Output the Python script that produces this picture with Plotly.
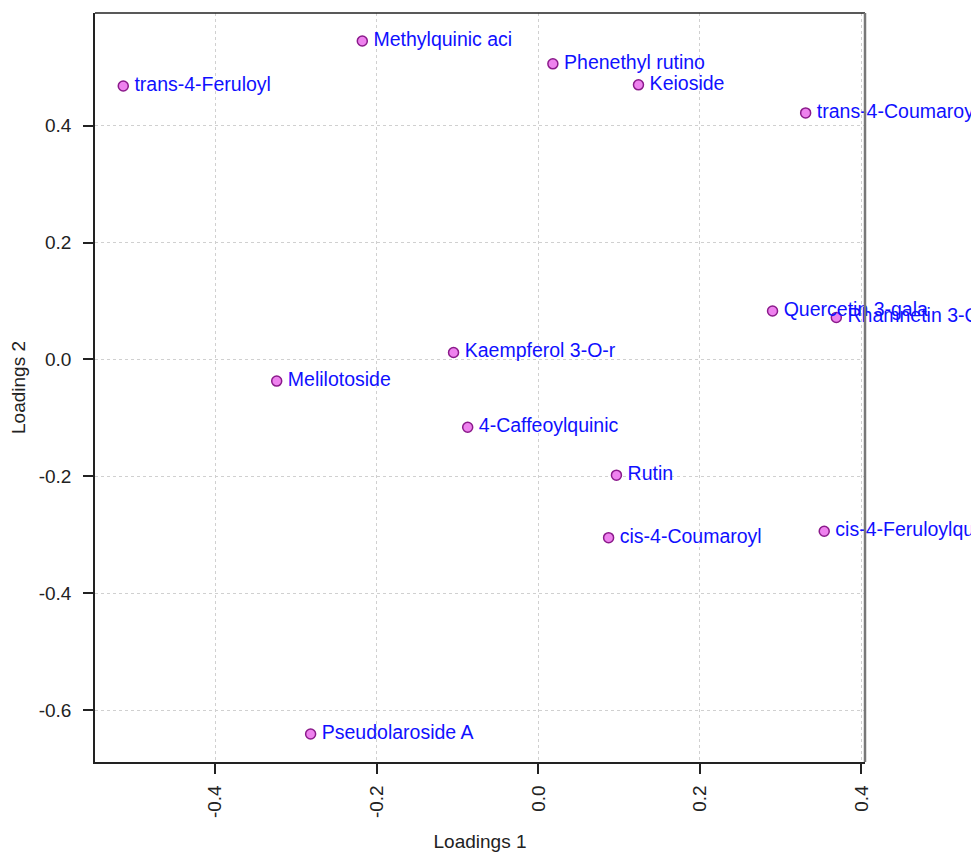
import plotly.graph_objects as go

names = ["trans-4-Feruloyl", "Methylquinic aci", "Phenethyl rutino", "Keioside",
         "trans-4-Coumaroy", "Quercetin 3-gala", "Rhamnetin 3-O", "Kaempferol 3-O-r",
         "Melilotoside", "4-Caffeoylquinic", "Rutin", "cis-4-Coumaroyl",
         "cis-4-Feruloylqu", "Pseudolaroside A"]
loadings1 = [-0.514, -0.218, 0.018, 0.124, 0.331, 0.290, 0.369, -0.105,
             -0.324, -0.0875, 0.0967, 0.087, 0.354, -0.282]
loadings2 = [0.468, 0.545, 0.506, 0.470, 0.422, 0.083, 0.072, 0.012,
             -0.037, -0.116, -0.198, -0.305, -0.294, -0.641]

xtick_vals = [-0.4, -0.2, 0.0, 0.2, 0.4]
xtick_text = ["-0.4", "-0.2", "0.0", "0.2", "0.4"]
ytick_vals = [-0.6, -0.4, -0.2, 0.0, 0.2, 0.4]
ytick_text = ["-0.6", "-0.4", "-0.2", "0.0", "0.2", "0.4"]

FONT = "Liberation Sans, Arial, sans-serif"
FS = 19
LFS = 19.5

fig = go.Figure()
fig.add_trace(go.Scatter(
    x=loadings1, y=loadings2, text=["\u2009" + n for n in names],
    mode="markers+text", textposition="middle right",
    cliponaxis=False,
    marker=dict(size=10, color="#EE82EE", line=dict(color="#8B1A8B", width=1.5)),
    textfont=dict(family=FONT, size=LFS, color="#1010ff"),
    hoverinfo="skip", showlegend=False,
))

axis_common = dict(
    showline=True, linecolor="#222222", linewidth=1.5, mirror=False,
    ticks="outside", ticklen=10, tickwidth=1.5, tickcolor="#222222",
    showgrid=True, gridcolor="#d0d0d0", griddash="dot", gridwidth=1,
    zeroline=False, automargin=False,
    tickfont=dict(family=FONT, size=FS, color="#222222"),
)

fig.update_xaxes(
    range=[-0.549, 0.4045], tickvals=xtick_vals, ticktext=xtick_text, tickangle=-90,
    ticklabelstandoff=4,
    title=dict(text="Loadings 1", font=dict(family=FONT, size=FS, color="#222222"), standoff=18),
    **axis_common,
)
fig.update_yaxes(
    range=[-0.689, 0.593], tickvals=ytick_vals, ticktext=ytick_text,
    ticklabelstandoff=8,
    title=dict(text="Loadings 2", font=dict(family=FONT, size=FS, color="#222222"), standoff=18),
    **axis_common,
)

# top border (black) and right border (grey, as in the reference)
fig.add_shape(type="line", xref="paper", yref="paper", x0=0, x1=1, y0=1, y1=1,
              line=dict(color="#222222", width=1.5))
fig.add_shape(type="line", xref="paper", yref="paper", x0=1, x1=1, y0=0, y1=1,
              line=dict(color="#777777", width=2.5))

fig.update_layout(
    width=971, height=846, autosize=False,
    margin=dict(l=87, r=114, t=5, b=92),
    plot_bgcolor="white", paper_bgcolor="white",
)

fig.write_html("out.html")
